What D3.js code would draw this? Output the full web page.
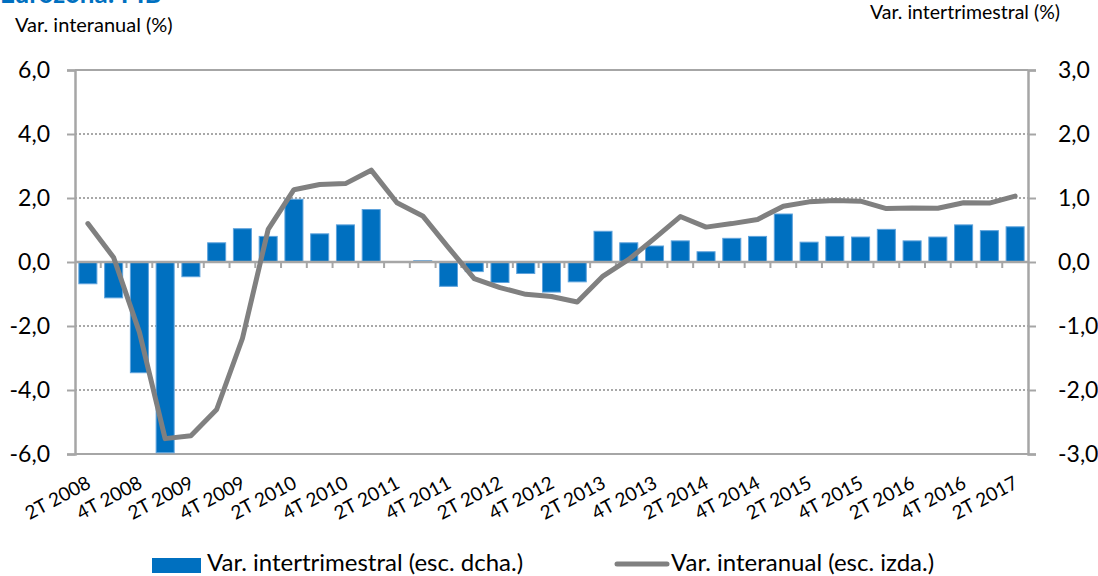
<!DOCTYPE html>
<html>
<head>
<meta charset="utf-8">
<script src="https://cdn.jsdelivr.net/npm/d3@7"></script>
<style>
  body { margin: 0; background: #fff; }
  svg { display: block; font-family: Lato, "Open Sans", sans-serif; }
</style>
</head>
<body>
<svg id="chart" width="1098" height="576"></svg>
<script>
// quarters 2T 2008 .. 2T 2017
const quarters = [];
for (let y = 2008; y <= 2017; y++) {
    for (let q = 1; q <= 4; q++) {
        if ((y === 2008 && q < 2) || (y === 2017 && q > 2)) continue;
        quarters.push(q + 'T ' + y);
    }
}

// var. intertrimestral (right axis)
const qoqValues = [-0.34, -0.56, -1.73, -2.98, -0.23, 0.30, 0.52, 0.40, 0.98, 0.44, 0.58, 0.82,
    0.0, 0.02, -0.38, -0.15, -0.32, -0.18, -0.47, -0.31, 0.48, 0.30, 0.25, 0.33, 0.16, 0.37,
    0.40, 0.75, 0.31, 0.40, 0.39, 0.51, 0.33, 0.39, 0.58, 0.49, 0.55];

// var. interanual (left axis)
const yoyValues = [1.20, 0.14, -2.19, -5.52, -5.43, -4.61, -2.39, 1.02, 2.26, 2.42, 2.45, 2.87,
    1.85, 1.44, 0.45, -0.52, -0.80, -1.01, -1.08, -1.25, -0.44, 0.08, 0.74, 1.42, 1.09, 1.20,
    1.33, 1.74, 1.88, 1.92, 1.90, 1.67, 1.69, 1.68, 1.85, 1.84, 2.06];

const leftTicks = [-6, -4, -2, 0, 2, 4, 6];
const rightTicks = [-3, -2, -1, 0, 1, 2, 3];

const svg = d3.select('#chart');
const margin = { left: 75, right: 1028, top: 70, bottom: 454 };

const x = d3.scaleBand().domain(quarters).range([margin.left, margin.right]).paddingInner(0.3).paddingOuter(0.15);
const yLeft = d3.scaleLinear().domain([-6, 6]).range([margin.bottom, margin.top]);
const yRight = d3.scaleLinear().domain([-3, 3]).range([margin.bottom, margin.top]);

const fmt = (d) => d3.format('.1f')(d).replace('.', ',').replace('−', '-');
const axisColor = '#a6a6a6';

// title (mostly cut off at the top)
svg.append('text').attr('x', 0).attr('y', 3).attr('fill', '#0070c0')
    .attr('font-size', 26).attr('font-weight', 'bold').text('Eurozona: PIB');

svg.append('text').attr('x', 15).attr('y', 32).attr('font-size', 20).attr('fill', '#000')
    .text('Var. interanual (%)');
svg.append('text').attr('x', 1060).attr('y', 19).attr('font-size', 19.5).attr('fill', '#000')
    .attr('text-anchor', 'end').text('Var. intertrimestral (%)');

// dotted gridlines
svg.append('g').selectAll('line').data(leftTicks.filter((d) => d !== 0 && Math.abs(d) !== 6))
    .enter().append('line')
    .attr('x1', margin.left).attr('x2', margin.right)
    .attr('y1', (d) => yLeft(d)).attr('y2', (d) => yLeft(d))
    .attr('stroke', '#8c8c8c').attr('stroke-width', 1.5).attr('stroke-dasharray', '2,2');

// frame top/bottom
[6, -6].forEach((v) => {
    svg.append('line').attr('x1', margin.left).attr('x2', margin.right)
        .attr('y1', yLeft(v)).attr('y2', yLeft(v))
        .attr('stroke', axisColor).attr('stroke-width', 2);
});

// left axis
const leftAxis = svg.append('g').attr('transform', `translate(${margin.left},0)`)
    .call(d3.axisLeft(yLeft).tickValues(leftTicks).tickFormat(fmt).tickSize(8).tickPadding(17));
// right axis
const rightAxis = svg.append('g').attr('transform', `translate(${margin.right},0)`)
    .call(d3.axisRight(yRight).tickValues(rightTicks).tickFormat(fmt).tickSize(8).tickPadding(22));

[leftAxis, rightAxis].forEach((g) => {
    g.select('.domain').attr('stroke', axisColor).attr('stroke-width', 2.5);
    g.selectAll('.tick line').attr('stroke', axisColor).attr('stroke-width', 2);
    g.selectAll('.tick text').attr('font-size', 23).attr('fill', '#000')
        .attr('font-family', 'Lato, "Open Sans", sans-serif');
});

// bars
svg.append('g').selectAll('rect').data(qoqValues).enter().append('rect')
    .attr('x', (d, i) => x(quarters[i]))
    .attr('width', x.bandwidth())
    .attr('y', (d) => yRight(Math.max(0, d)))
    .attr('height', (d) => Math.abs(yRight(d) - yRight(0)))
    .attr('fill', '#0070c0')
    .attr('stroke', '#5fa3dc').attr('stroke-width', 1);

// zero axis with category ticks
const zeroY = yLeft(0);
svg.append('line').attr('x1', margin.left).attr('x2', margin.right)
    .attr('y1', zeroY).attr('y2', zeroY).attr('stroke', axisColor).attr('stroke-width', 2.5);
const step = x.step();
svg.append('g').selectAll('line').data(d3.range(1, quarters.length)).enter().append('line')
    .attr('x1', (i) => margin.left + x.paddingOuter() * step - x.paddingInner() * step / 2 + i * step)
    .attr('x2', (i) => margin.left + x.paddingOuter() * step - x.paddingInner() * step / 2 + i * step)
    .attr('y1', zeroY).attr('y2', zeroY + 6)
    .attr('stroke', axisColor).attr('stroke-width', 2);

// line
const line = d3.line()
    .x((d, i) => x(quarters[i]) + x.bandwidth() / 2)
    .y((d) => yLeft(d));
svg.append('path').datum(yoyValues).attr('d', line)
    .attr('fill', 'none').attr('stroke', '#808080').attr('stroke-width', 5)
    .attr('stroke-linejoin', 'round').attr('stroke-linecap', 'round');

// x labels every two quarters
svg.append('g').selectAll('text').data(quarters.filter((d, i) => i % 2 === 0)).enter().append('text')
    .attr('transform', (d) => `translate(${x(d) + x.bandwidth() / 2 + 4},${margin.bottom + 33}) rotate(-28)`)
    .attr('text-anchor', 'end').attr('font-size', 19).attr('fill', '#000')
    .text((d) => d);

// legend
const legend = svg.append('g');
legend.append('rect').attr('x', 152).attr('y', 558).attr('width', 49).attr('height', 15).attr('fill', '#0070c0');
legend.append('text').attr('x', 207).attr('y', 571).attr('font-size', 24).text('Var. intertrimestral (esc. dcha.)');
legend.append('line').attr('x1', 617).attr('x2', 667).attr('y1', 564).attr('y2', 564)
    .attr('stroke', '#808080').attr('stroke-width', 5).attr('stroke-linecap', 'round');
legend.append('text').attr('x', 671).attr('y', 571).attr('font-size', 24).text('Var. interanual (esc. izda.)');
</script>
</body>
</html>
